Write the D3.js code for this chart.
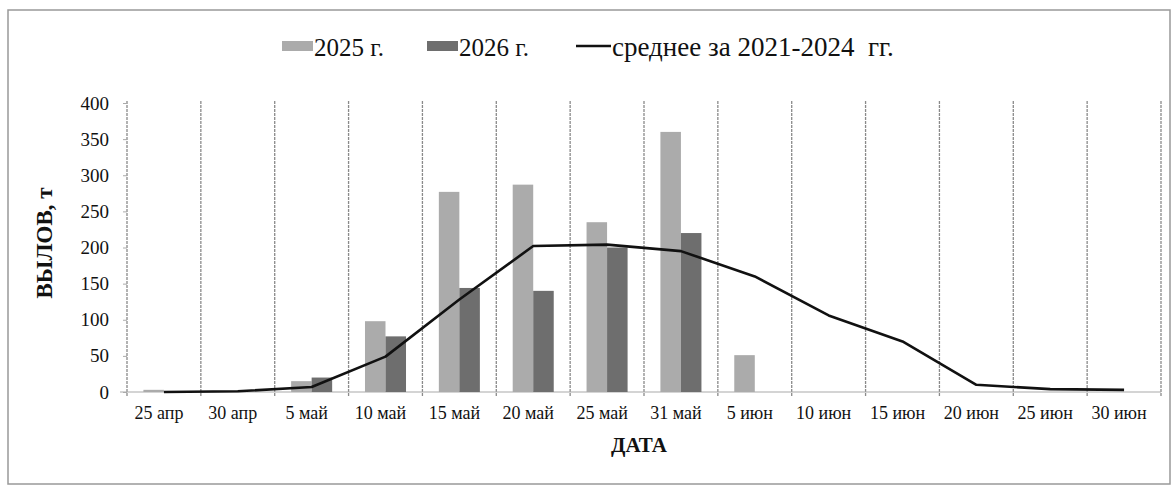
<!DOCTYPE html>
<html>
<head>
<meta charset="utf-8">
<script src="https://cdn.jsdelivr.net/npm/d3@7"></script>
<style>
  body { margin: 0; background: #fff; }
  svg { display: block; }
  text { font-family: "Liberation Serif", "DejaVu Serif", serif; }
</style>
</head>
<body>
<div id="chart"></div>
<script>
//data
var dates = ["25 апр", "30 апр", "5 май", "10 май", "15 май", "20 май", "25 май",
             "31 май", "5 июн", "10 июн", "15 июн", "20 июн", "25 июн", "30 июн"];
var catch2025 = [3, 0, 15, 98, 277, 287, 235, 360, 51, 0, 0, 0, 0, 0];
var catch2026 = [0, 0, 20, 77, 144, 140, 200, 220, 0, 0, 0, 0, 0, 0];
var average = [0, 1, 7, 49, 128, 202, 204, 195, 160, 106, 70, 10, 4, 3];
var yTicks = [0, 50, 100, 150, 200, 250, 300, 350, 400];
var seriesNames = ["2025 г.", "2026 г."];

var width = 1175;
var height = 490;
var font = "Liberation Serif, DejaVu Serif, serif";

var svg = d3.select("#chart").append("svg")
    .attr("width", width)
    .attr("height", height);

//outer frame of the chart
svg.append("rect")
    .attr("x", 8)
    .attr("y", 10)
    .attr("width", 1162)
    .attr("height", 474)
    .attr("fill", "none")
    .attr("stroke", "#999")
    .attr("stroke-width", 1.5);

var x = d3.scaleBand()
    .domain(dates)
    .range([127, 1161])
    .paddingInner(0)
    .paddingOuter(0);

var xs = d3.scaleBand()
    .domain(seriesNames)
    .range([0, x.bandwidth()])
    .paddingInner(0)
    .paddingOuter(0.8);

var y = d3.scaleLinear()
    .domain([0, 400])
    .range([392, 103]);

//vertical grid lines on the category borders
svg.append("g")
    .selectAll("line")
    .data(dates.concat(["end"]))
    .enter().append("line")
    .attr("x1", function(d, i) { return x.range()[0] + i * x.step(); })
    .attr("x2", function(d, i) { return x.range()[0] + i * x.step(); })
    .attr("y1", y(400) - 2)
    .attr("y2", y(0) + 4)
    .attr("stroke", "#8a8a8a")
    .attr("stroke-width", 1.3)
    .attr("stroke-dasharray", "3,1");

//x axis line
svg.append("line")
    .attr("x1", 120)
    .attr("x2", 1161)
    .attr("y1", y(0))
    .attr("y2", y(0))
    .attr("stroke", "#aaa")
    .attr("stroke-width", 1.2);

//y axis labels
var yAxis = d3.axisLeft(y)
    .tickValues(yTicks)
    .tickSize(4)
    .tickPadding(14);

var gy = svg.append("g")
    .attr("transform", "translate(127,0)")
    .call(yAxis)
    .attr("font-family", font);
gy.select(".domain").remove();
gy.selectAll(".tick line").attr("stroke", "#aaa");
gy.selectAll("text")
    .style("font-family", font)
    .style("font-size", "19px")
    .attr("fill", "#111");

//x axis labels
var xAxis = d3.axisBottom(x)
    .tickSize(0)
    .tickPadding(14);

var gx = svg.append("g")
    .attr("transform", "translate(-5," + y(0) + ")")
    .call(xAxis)
    .attr("font-family", font);
gx.select(".domain").remove();
gx.selectAll("text")
    .style("font-family", font)
    .style("font-size", "18px")
    .attr("fill", "#111");

//bars
var colors = ["#ababab", "#6e6e6e"];
var values = [catch2025, catch2026];

for (var s = 0; s < 2; ++s) {
    svg.append("g")
        .selectAll("rect")
        .data(values[s])
        .enter().append("rect")
        .attr("x", function(d, i) { return x(dates[i]) + xs(seriesNames[s]); })
        .attr("y", function(d) { return y(d); })
        .attr("width", xs.bandwidth())
        .attr("height", function(d) { return y(0) - y(d); })
        .attr("fill", colors[s]);
}

//average line
var line = d3.line()
    .x(function(d, i) { return x(dates[i]) + x.bandwidth() / 2; })
    .y(function(d) { return y(d); });

svg.append("path")
    .datum(average)
    .attr("d", line)
    .attr("fill", "none")
    .attr("stroke", "#111")
    .attr("stroke-width", 2.6)
    .attr("stroke-linejoin", "round");

//axis titles
svg.append("text")
    .attr("transform", "translate(52,243) rotate(-90)")
    .attr("text-anchor", "middle")
    .style("font-family", font)
    .style("font-size", "23px")
    .style("font-weight", "bold")
    .attr("fill", "#111")
    .text("ВЫЛОВ, т");

svg.append("text")
    .attr("x", 639)
    .attr("y", 452)
    .attr("text-anchor", "middle")
    .style("font-family", font)
    .style("font-size", "21px")
    .style("font-weight", "bold")
    .attr("fill", "#111")
    .text("ДАТА");

//legend
var legend = svg.append("g");
var legendX = [282, 427];
for (var k = 0; k < 2; ++k) {
    legend.append("rect")
        .attr("x", legendX[k])
        .attr("y", 41)
        .attr("width", 31)
        .attr("height", 10)
        .attr("fill", colors[k]);
    legend.append("text")
        .attr("x", legendX[k] + 32)
        .attr("y", 56)
        .style("font-family", font)
        .style("font-size", "25px")
        .attr("fill", "#111")
        .text(seriesNames[k]);
}
legend.append("line")
    .attr("x1", 576)
    .attr("x2", 611)
    .attr("y1", 46)
    .attr("y2", 46)
    .attr("stroke", "#111")
    .attr("stroke-width", 2.6);
legend.append("text")
    .attr("x", 612)
    .attr("y", 56)
    .style("font-family", font)
    .style("font-size", "27px")
    .style("white-space", "pre")
    .attr("fill", "#111")
    .text("среднее за 2021-2024  гг.");
</script>
</body>
</html>
